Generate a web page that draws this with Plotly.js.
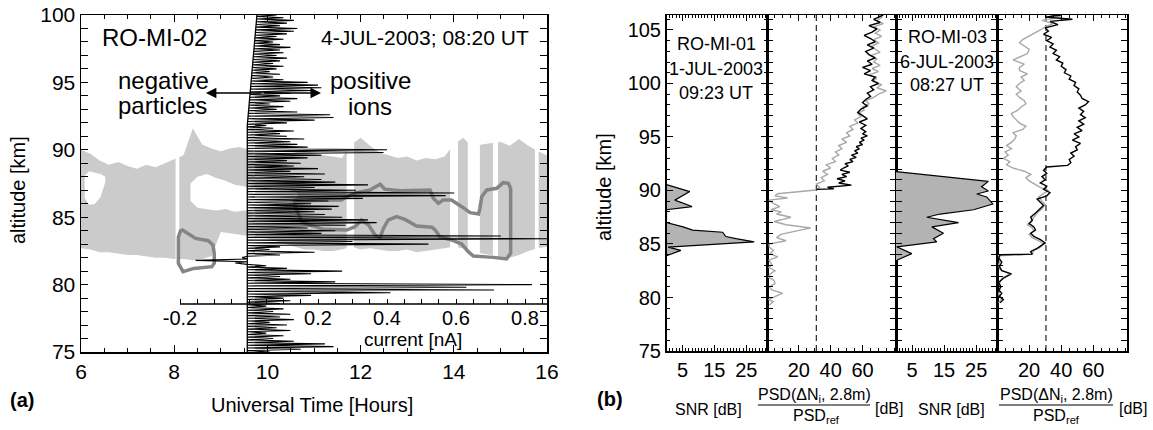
<!DOCTYPE html>
<html>
<head>
<meta charset="utf-8">
<script src="https://cdn.plot.ly/plotly-3.0.1.min.js"></script>
<style>html,body{margin:0;padding:0;background:#fff;}#plot{width:1153px;height:430px;}</style>
</head>
<body>
<div id="plot"></div>
<script>
// ---------------- Panel (a): radar echo (grey) ----------------
const echo_t  = [6.0,6.2,6.4,6.6,6.8,7.0,7.2,7.4,7.6,7.8,8.0,8.2,8.4,8.6,8.8,9.0,9.2,9.4,9.6,9.8,10.0,10.2,10.4,10.6,10.8,11.0,11.2,11.4,11.6,11.8,12.0,12.2,12.4,12.6,12.8,13.0,13.2,13.4,13.6,13.8,14.0,14.2,14.4,14.6,14.8,15.0,15.2,15.4,15.6,15.8,16.0];
const echo_hi = [90.0,89.7,89.2,88.9,89.1,88.8,88.6,88.9,88.7,89.0,89.3,89.6,91.6,90.4,90.1,89.9,90.1,90.2,90.0,89.9,89.8,89.7,89.6,89.8,89.9,89.8,89.6,89.5,89.4,90.4,90.9,90.3,89.8,89.6,89.4,89.5,89.2,89.4,89.3,89.5,90.4,90.9,90.2,90.4,90.5,90.6,90.3,90.8,90.3,89.9,89.6];
const echo_lo = [82.7,82.6,82.4,82.4,82.3,82.2,82.2,82.1,82.0,82.0,81.9,81.9,81.8,81.9,82.1,83.9,83.8,83.7,83.6,83.5,83.4,83.2,83.0,82.8,82.6,82.6,82.5,82.5,82.6,82.8,82.6,82.7,82.6,82.5,82.5,82.6,82.4,82.5,82.6,82.7,82.8,82.7,82.6,82.3,82.2,82.0,82.0,82.2,82.5,82.7,82.8];
// echo-free holes inside the layer
const hole1_t  = [6.08,6.18,6.3,6.42,6.52];
const hole1_lo = [86.4,85.9,86.0,86.5,87.6];
const hole1_hi = [88.1,88.4,88.3,88.2,88.0];
const hole2_t  = [8.35,8.5,8.7,8.9,9.1,9.3,9.5,9.7,9.9,10.1,10.3,10.5,10.65];
const hole2_lo = [86.2,85.7,85.6,85.5,85.6,85.4,85.5,85.4,85.5,85.7,85.8,86.1,86.6];
const hole2_hi = [87.5,88.0,88.2,87.9,87.7,87.4,87.3,87.1,87.0,87.2,87.1,87.0,86.8];
// data gaps (no radar data)
const gap_start = [8.03,11.70,13.92,14.30,14.84,15.74];
const gap_end   = [8.11,11.86,14.09,14.56,14.95,15.82];
// contours (dark grey)
const contour1_t   = [8.15,8.09,8.09,8.19,8.42,8.81,8.86,8.86,8.83,8.73,8.46,8.27,8.15];
const contour1_alt = [84.1,83.55,81.58,80.96,81.2,81.33,81.58,82.32,82.94,83.26,83.43,83.8,84.1];
const contour2_t   = [10.56,10.99,11.59,11.70,11.92,12.20,12.42,12.52,12.85,13.49,13.56,13.67,13.77,13.95,14.17,14.35,14.53,14.56,14.60,14.71,14.92,15.06,15.17,15.22,15.22,15.13,14.85,14.42,14.31,14.17,13.95,13.70,13.60,13.53,13.20,12.95,12.77,12.59,12.49,12.42,12.31,12.17,12.02,11.88,11.70,11.2,10.75,10.56];
const contour2_alt = [86.03,86.23,86.28,86.52,86.82,87.02,87.44,87.07,86.97,87.02,86.40,86.03,86.28,86.28,85.78,85.34,85.24,85.66,86.52,87.02,87.14,87.56,87.51,87.14,82.32,81.90,82.02,82.12,82.44,83.01,83.31,83.55,84.05,84.25,84.35,84.84,85.04,84.79,84.17,83.51,83.68,84.42,84.79,84.30,84.05,84.1,84.6,86.03];
// probe current profile (nA) vs altitude (km)
const cur_alt  = [75.0,75.2,75.4,75.6,75.8,76.0,76.2,76.4,76.6,76.8,77.0,77.2,77.4,77.6,77.8,78.0,78.2,78.4,78.6,78.8,79.0,79.2,79.4,79.6,79.8,80.0,80.2,80.4,80.6,80.8,81.0,81.2,81.4,81.6,81.8,82.0,82.2,82.4,82.6,82.8,83.0,83.2,83.4,83.6,83.8,84.0,84.2,84.4,84.6,84.8,85.0,85.2,85.4,85.6,85.8,86.0,86.2,86.4,86.6,86.8,87.0,87.2,87.4,87.6,87.8,88.0,88.2,88.4,88.6,88.8,89.0,89.2,89.4,89.6,89.8,90.0,90.2,90.4,90.6,90.8,91.0,91.2,91.4,91.6,91.8,92.0,92.2,92.4,92.6,92.8,93.0,93.2,93.4,93.6,93.8,94.0,94.2,94.4,94.6,94.8,95.0,95.2,95.4,95.6,95.8,96.0,96.2,96.4,96.6,96.8,97.0,97.2,97.4,97.6,97.8,98.0,98.2,98.4,98.6,98.8,99.0,99.2,99.4,99.6,99.8,100.0];
const cur_peak = [0.06,0.15,0.245,0.22,0.13,0.07,0.10,0.05,0.12,0.08,0.11,0.06,0.13,0.09,0.12,0.07,0.10,0.05,0.09,0.12,0.10,0.18,0.41,0.71,0.63,0.82,0.25,0.12,0.09,0.18,0.27,0.11,0.05,-0.04,-0.155,-0.02,0.09,0.19,0.06,0.09,0.52,0.30,0.90,0.73,0.21,0.25,0.17,0.28,0.37,0.345,0.27,0.22,0.19,0.24,0.26,0.18,0.23,0.33,0.57,0.595,0.31,0.19,0.345,0.25,0.21,0.16,0.22,0.12,0.20,0.13,0.15,0.11,0.17,0.21,0.39,0.40,0.17,0.14,0.12,0.16,0.11,0.09,0.13,0.07,0.05,0.11,0.19,0.245,0.235,0.14,0.08,0.10,0.06,0.12,0.14,0.09,0.12,0.19,0.21,0.20,0.17,0.10,0.07,0.09,0.06,0.08,0.10,0.07,0.09,0.11,0.08,0.10,0.09,0.12,0.09,0.07,0.10,0.08,0.11,0.13,0.14,0.09,0.11,0.13,0.10,0.08];
const base_alt = [75.0,91.8,100.0];
const base_cur = [-0.005,-0.005,0.023];
const cur_tick_vals = [-0.2,-0.15,-0.1,-0.05,0,0.05,0.1,0.15,0.2,0.25,0.3,0.35,0.4,0.45,0.5,0.55,0.6,0.65,0.7,0.75,0.8,0.85];
const cur_tick_text = ['-0.2',' ',' ',' ',' ',' ',' ',' ','0.2',' ',' ',' ','0.4',' ',' ',' ','0.6',' ',' ',' ','0.8',' '];

// ---------------- Panel (b) ----------------
const snr1_alt = [90.55,89.9,89.1,88.5,88.2,87.0,86.6,86.3,86.1,85.7,85.5,85.2,84.7,84.4,83.9];
const snr1_val = [0,7.3,2.6,8.0,0,0,5.2,8.2,17.6,18.6,21.8,27.5,0.5,4.5,0];
const psd1_grey_alt = [79.3,79.6,79.8,80.1,80.4,80.7,81.0,81.3,81.6,81.9,82.2,82.5,82.8,83.1,83.5,83.8,84.1,84.4,84.7,85.0,85.3,85.6,85.9,86.2,86.5,86.8,87.1,87.3,87.5,87.8,88.0,88.2,88.5,88.8,89.1,89.3,89.5,89.7,90.05,90.3,90.6,90.9,91.2,91.5,91.8,92.1,92.4,92.7,93.0,93.3,93.6,93.9,94.2,94.5,94.8,95.1,95.4,95.7,96.0,96.3,96.6,96.9,97.2,97.5,97.8,98.1,98.4,98.7,99.0,99.3,99.6,99.9,100.2,100.5,100.8,101.1,101.4,101.7,102.0,102.3,102.6,102.9,103.2,103.5,103.8,104.1,104.4,104.7,105.0,105.3,105.6,105.9,106.2,106.4];
const psd1_grey_val = [1.5,4,1,6,9.8,3,1.5,5,4.4,1,2,5,1.2,3,1.3,6.7,2,4,1.5,1.3,11.9,6,8.7,18,27.5,12,4.4,10,15,6,9,2.5,8,4,1.3,12.9,5,6.7,30.6,33,31,36,34,38,35,40,37,43,41,45,43,47,45,50,47,52,50,54,52,57,55,59,57,61,60,64,62,67,70,75,69,72,66,69,64,70,66,71,67,69,65,71,68,66,70,67,72,68,71,67,73,69,72,70];
const psd1_black_alt = [90.1,90.15,90.3,90.5,90.7,90.9,91.1,91.3,91.5,91.7,91.9,92.1,92.3,92.5,92.7,92.9,93.1,93.3,93.5,93.7,93.9,94.1,94.3,94.5,94.7,94.9,95.1,95.3,95.5,95.8,96.1,96.4,96.7,97.0,97.3,97.6,97.9,98.2,98.5,98.8,99.1,99.4,99.7,100.0,100.3,100.6,100.9,101.2,101.5,101.8,102.1,102.4,102.7,103.0,103.3,103.6,103.9,104.2,104.5,104.8,105.1,105.4,105.7,106.0,106.4];
const psd1_black_val = [31,42,38,53,45,49,44,50,47,52,46,48,51,49,54,52,56,53,57,55,58,56,60,58,61,59,63,60,62,59,62,58,63,60,57,59,63,60,62,65,63,67,65,70,66,68,61,65,60,66,63,68,64,62,67,63,68,65,61,66,69,64,71,67,73];
const snr3_alt = [91.76,91.1,90.85,90.35,89.95,89.67,89.4,88.74,88.2,87.8,87.5,87.0,86.6,86.0,85.5,85.2,84.74,84.1,83.5];
const snr3_val = [0,20,28.8,26.7,28.8,25.2,28.3,30.2,24.2,13.75,9.6,19.5,11.2,14.8,11.7,12.7,0.2,4.9,0.4];
const psd3_black_alt = [79.5,79.8,80.1,80.4,80.7,81.0,81.4,81.8,82.2,82.5,82.9,83.3,83.7,84.0,84.05,84.3,84.6,84.9,85.1,85.4,85.7,86.0,86.3,86.6,86.9,87.2,87.5,87.9,88.2,88.6,88.9,89.2,89.5,89.8,90.1,90.4,90.7,91.0,91.3,91.6,91.9,92.2,92.35,92.6,92.9,93.2,93.5,93.8,94.1,94.4,94.7,95.0,95.3,95.6,95.9,96.2,96.5,96.8,97.1,97.4,97.7,98.0,98.3,98.6,98.9,99.2,99.5,99.8,100.1,100.4,100.7,101.0,101.3,101.6,101.9,102.2,102.5,102.8,103.1,103.4,103.7,104.0,104.3,104.6,104.9,105.2,105.5,105.8,106.0,106.2,106.4];
const psd3_black_val = [2,4,1.5,3,1,2.5,1,4,9,3,1.5,3,1,2,22,21,25,28,30,27,23,21,24,23,20,22,21,24,26,29,27,25,31,33,29,31,27,30,28,31,29,31,44,46,45,48,46,50,49,52,47,51,48,53,50,54,51,55,52,54,51,55,57,53,52,50,51,48,49,45,46,42,43,40,41,37,39,35,37,33,35,31,34,29,32,30,38,33,47,30,40];
const psd3_grey_alt = [79.5,79.9,80.3,80.8,81.3,81.8,82.2,82.6,83.0,83.5,83.9,84.05,84.4,84.7,85.0,85.3,85.6,85.9,86.2,86.5,86.8,87.1,87.5,87.9,88.3,88.7,89.0,89.4,89.7,90.0,90.3,90.6,90.9,91.2,91.5,91.8,92.1,92.4,92.7,93.0,93.3,93.6,93.9,94.2,94.5,94.8,95.1,95.4,95.7,96.0,96.3,96.6,96.9,97.2,97.5,97.8,98.1,98.4,98.7,99.0,99.3,99.7,100.0,100.3,100.6,100.9,101.2,101.5,101.8,102.2,102.5,102.8,103.2,103.5,103.8,104.1,104.4,104.7,105.0,105.3,105.6,105.9,106.2,106.4];
const psd3_grey_val = [1,3,1,2,1.5,3,8,2,1,2,1,22,23,27,29,26,22,20,23,22,19,21,23,25,28,30,28,26,29,32,27,23,20,18,21,17,10,6,8,4,7,5,9,6,9,11,12,10,16,18,14,12,10,9,13,15,18,17,14,12,15,12,14,17,15,19,14,14,17,10,15,19,20,17,14,16,20,23,27,30,35,28,40,33];
const psd1_ref = 31;
const psd3_ref = 30.5;

// ---------------- geometry helpers (layout only) ----------------
const W = 1153, H = 430;
const fx = p => p / W;
const fy = p => 1 - p / H;
const FONT = 'Liberation Sans, Arial, sans-serif';
const cur0px = 249, curScale = 345; // current axis: zero position & px per nA
const curRange = [-(cur0px - 81) / curScale, (547 - cur0px) / curScale];

function interp(xs, ys, x) {
  for (let i = 0; i < xs.length - 1; i++) {
    if (x >= xs[i] && x <= xs[i + 1]) {
      const f = (x - xs[i]) / (xs[i + 1] - xs[i]);
      return ys[i] + f * (ys[i + 1] - ys[i]);
    }
  }
  return x < xs[0] ? ys[0] : ys[ys.length - 1];
}
function band(t, lo, hi) {
  return { x: t.concat(t.slice().reverse()), y: hi.concat(lo.slice().reverse()) };
}

const traces = [];
const e = band(echo_t, echo_lo, echo_hi);
traces.push({ x: e.x, y: e.y, xaxis: 'x', yaxis: 'y', mode: 'lines', fill: 'toself', fillcolor: '#cbcbcb', line: { width: 0, color: '#cbcbcb' }, hoverinfo: 'skip' });
[[hole1_t, hole1_lo, hole1_hi], [hole2_t, hole2_lo, hole2_hi]].forEach(h => {
  const b = band(h[0], h[1], h[2]);
  traces.push({ x: b.x, y: b.y, xaxis: 'x', yaxis: 'y', mode: 'lines', fill: 'toself', fillcolor: '#ffffff', line: { width: 0, color: '#fff' }, hoverinfo: 'skip' });
});
const gLo = Math.min(...echo_lo) - 0.5, gHi = Math.max(...echo_hi) + 0.5;
const gx = [], gy = [];
gap_start.forEach((s, i) => { gx.push(s, gap_end[i], gap_end[i], s, s, null); gy.push(gLo, gLo, gHi, gHi, gLo, null); });
traces.push({ x: gx, y: gy, xaxis: 'x', yaxis: 'y', mode: 'lines', fill: 'toself', fillcolor: '#ffffff', line: { width: 0, color: '#fff' }, hoverinfo: 'skip' });
traces.push({ x: contour1_t, y: contour1_alt, xaxis: 'x', yaxis: 'y', mode: 'lines', line: { color: '#858585', width: 3.5 }, hoverinfo: 'skip' });
traces.push({ x: contour2_t, y: contour2_alt, xaxis: 'x', yaxis: 'y', mode: 'lines', line: { color: '#858585', width: 3.5 }, hoverinfo: 'skip' });

// current profile: spikes from baseline
const cx = [], cy = [];
cur_alt.forEach((a, i) => {
  cx.push(interp(base_alt, base_cur, a - 0.1)); cy.push(a - 0.1);
  cx.push(cur_peak[i]); cy.push(a);
});
cx.push(interp(base_alt, base_cur, 100.1)); cy.push(100.1);
traces.push({ x: base_cur, y: base_alt, xaxis: 'x2', yaxis: 'y', mode: 'lines', line: { color: '#000', width: 1.3 }, hoverinfo: 'skip' });
traces.push({ x: cx, y: cy, xaxis: 'x2', yaxis: 'y', mode: 'lines', line: { color: '#000', width: 1.1 }, hoverinfo: 'skip' });

// panel b
traces.push({ x: snr1_val, y: snr1_alt, xaxis: 'x3', yaxis: 'y2', mode: 'lines', fill: 'tozerox', fillcolor: '#b3b3b3', line: { color: '#000', width: 1.2 }, hoverinfo: 'skip' });
traces.push({ x: [psd1_ref, psd1_ref], y: [75, 106.4], xaxis: 'x4', yaxis: 'y2', mode: 'lines', line: { color: '#333', width: 1.3, dash: '6px,4px' }, hoverinfo: 'skip' });
traces.push({ x: psd1_grey_val, y: psd1_grey_alt, xaxis: 'x4', yaxis: 'y2', mode: 'lines', line: { color: '#a8a8a8', width: 1.4 }, hoverinfo: 'skip' });
traces.push({ x: psd1_black_val, y: psd1_black_alt, xaxis: 'x4', yaxis: 'y2', mode: 'lines', line: { color: '#000', width: 1.4 }, hoverinfo: 'skip' });
traces.push({ x: snr3_val, y: snr3_alt, xaxis: 'x5', yaxis: 'y2', mode: 'lines', fill: 'tozerox', fillcolor: '#b3b3b3', line: { color: '#000', width: 1.2 }, hoverinfo: 'skip' });
traces.push({ x: [psd3_ref, psd3_ref], y: [75, 106.4], xaxis: 'x6', yaxis: 'y2', mode: 'lines', line: { color: '#333', width: 1.3, dash: '6px,4px' }, hoverinfo: 'skip' });
traces.push({ x: psd3_grey_val, y: psd3_grey_alt, xaxis: 'x6', yaxis: 'y2', mode: 'lines', line: { color: '#a8a8a8', width: 1.4 }, hoverinfo: 'skip' });
traces.push({ x: psd3_black_val, y: psd3_black_alt, xaxis: 'x6', yaxis: 'y2', mode: 'lines', line: { color: '#000', width: 1.4 }, hoverinfo: 'skip' });

const axBase = {
  showline: true, linecolor: '#000', linewidth: 1.5, mirror: 'allticks', ticks: 'inside',
  ticklen: 7, tickwidth: 1, tickcolor: '#000', showgrid: false, zeroline: false, tickangle: 0,
  tickfont: { family: FONT, size: 21, color: '#000' }
};
function ax(extra) { return Object.assign({}, axBase, extra); }
const bFont = { family: FONT, size: 20, color: '#000' };

const layout = {
  width: W, height: H, margin: { l: 0, r: 0, t: 0, b: 0 },
  paper_bgcolor: '#fff', plot_bgcolor: 'rgba(0,0,0,0)', showlegend: false,
  font: { family: FONT, color: '#000' },
  xaxis: ax({ domain: [fx(81), fx(547)], range: [6, 16], anchor: 'y', tickmode: 'linear', tick0: 6, dtick: 2,
    minor: { ticks: 'inside', ticklen: 4, tick0: 6, dtick: 0.5, tickcolor: '#000' } }),
  yaxis: ax({ domain: [fy(352), fy(15)], range: [75, 100], anchor: 'x', tickmode: 'linear', tick0: 75, dtick: 5,
    minor: { ticks: 'inside', ticklen: 4, tick0: 75, dtick: 1, tickcolor: '#000' } }),
  xaxis2: { overlaying: 'x', anchor: 'free', position: fy(304), side: 'bottom', range: curRange,
    showline: false, showgrid: false, zeroline: false, ticks: 'inside', ticklen: 5, tickwidth: 1, tickcolor: '#000',
    tickmode: 'array', tickvals: cur_tick_vals, ticktext: cur_tick_text, tickangle: 0,
    tickfont: { family: FONT, size: 20, color: '#000' } },
  yaxis2: ax({ domain: [fy(351), fy(15)], range: [75, 106.4], anchor: 'x3', tickmode: 'linear', tick0: 75, dtick: 5, ticklen: 6,
    tickfont: bFont, minor: { ticks: 'inside', ticklen: 3, tick0: 75, dtick: 1, tickcolor: '#000' } }),
  xaxis3: ax({ domain: [fx(666.5), fx(767)], range: [0, 31.5], anchor: 'y2', tickmode: 'linear', tick0: 5, dtick: 10, ticklen: 6,
    tickfont: bFont, minor: { ticks: 'inside', ticklen: 3, tick0: 0, dtick: 1, tickcolor: '#000' } }),
  xaxis4: ax({ domain: [fx(767), fx(896)], range: [0, 81], anchor: 'y2', tickmode: 'array', tickvals: [20, 40, 60], ticklen: 6,
    tickfont: bFont, minor: { ticks: 'inside', ticklen: 3, tickmode: 'linear', tick0: 0, dtick: 5, tickcolor: '#000' } }),
  xaxis5: ax({ domain: [fx(896), fx(997)], range: [0, 31.5], anchor: 'y2', tickmode: 'linear', tick0: 5, dtick: 10, ticklen: 6,
    tickfont: bFont, minor: { ticks: 'inside', ticklen: 3, tick0: 0, dtick: 1, tickcolor: '#000' } }),
  xaxis6: ax({ domain: [fx(997), fx(1127)], range: [0, 81], anchor: 'y2', tickmode: 'array', tickvals: [20, 40, 60], ticklen: 6,
    tickfont: bFont, minor: { ticks: 'inside', ticklen: 3, tickmode: 'linear', tick0: 0, dtick: 5, tickcolor: '#000' } }),
  shapes: [
    { type: 'line', xref: 'x2', yref: 'paper', x0: -0.2, x1: curRange[1], y0: fy(304), y1: fy(304), line: { color: '#000', width: 1.3 } },
    { type: 'line', xref: 'paper', yref: 'paper', x0: fx(758), x1: fx(870), y0: fy(405), y1: fy(405), line: { color: '#000', width: 1.2 } },
    { type: 'line', xref: 'paper', yref: 'paper', x0: fx(999), x1: fx(1113), y0: fy(405), y1: fy(405), line: { color: '#000', width: 1.2 } }
  ],
  annotations: []
};

function txt(text, x, y, size, opts) {
  layout.annotations.push(Object.assign({ text: text, x: fx(x), y: fy(y), xref: 'paper', yref: 'paper', showarrow: false,
    xanchor: 'center', yanchor: 'middle', font: { family: FONT, size: size, color: '#000' } }, opts || {}));
}
// panel a texts
txt('RO-MI-02', 100, 38, 24, { xanchor: 'left' });
txt('4-JUL-2003; 08:20 UT', 531, 37, 21, { xanchor: 'right' });
txt('negative', 163, 80, 24);
txt('particles', 162, 105, 24);
txt('positive', 370, 80, 24);
txt('ions', 370, 107, 24);
txt('current [nA]', 413, 339, 19);
txt('Universal Time [Hours]', 312, 405, 20);
txt('<b>(a)</b>', 22, 400, 20);
txt('altitude [km]', 18, 190, 20, { textangle: -90 });
// arrows
[8.68, 11.15].forEach(h => {
  layout.annotations.push({ x: h, y: 94.21, ax: 9.9, ay: 94.21, xref: 'x', yref: 'y', axref: 'x', ayref: 'y', text: '',
    showarrow: true, arrowhead: 2, arrowsize: 1.4, arrowwidth: 1.5, arrowcolor: '#000', standoff: 0, startstandoff: 0 });
});
// panel b texts
txt('altitude [km]', 604, 187, 20, { textangle: -90 });
txt('<b>(b)</b>', 610, 399, 20);
txt('RO-MI-01', 716, 44, 18);
txt('1-JUL-2003', 716, 69, 18);
txt('09:23 UT', 716, 93, 18);
txt('RO-MI-03', 947, 37, 18);
txt('6-JUL-2003', 947, 62, 18);
txt('08:27 UT', 947, 85, 18);
txt('SNR [dB]', 708, 409, 16);
txt('SNR [dB]', 951, 409, 16);
txt('PSD(ΔN<sub>i</sub>, 2.8m)', 814, 395, 16);
txt('PSD<sub>ref</sub>', 816, 416, 16);
txt('[dB]', 889, 408, 16);
txt('PSD(ΔN<sub>i</sub>, 2.8m)', 1056, 395, 16);
txt('PSD<sub>ref</sub>', 1056, 416, 16);
txt('[dB]', 1133, 408, 16);

Plotly.newPlot('plot', traces, layout, { staticPlot: true, displayModeBar: false });
</script>
</body>
</html>
